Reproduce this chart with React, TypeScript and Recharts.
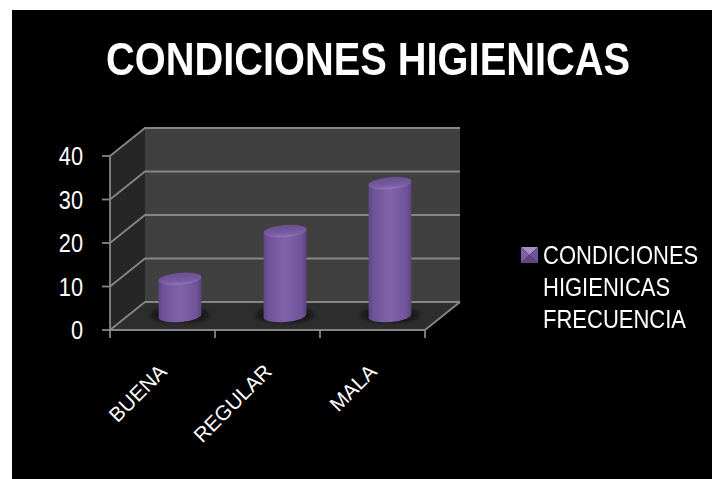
import React from "react";
import { ComposedChart, Bar, XAxis, YAxis, CartesianGrid, ReferenceArea, Legend } from "recharts";

const categories = ["BUENA", "REGULAR", "MALA"];
const frecuencia = [9, 20, 31];
const yTicks = [0, 10, 20, 30, 40];
const titleText = "CONDICIONES HIGIENICAS";
const seriesName = "CONDICIONES HIGIENICAS FRECUENCIA";
const legendLines = ["CONDICIONES", "HIGIENICAS", "FRECUENCIA"];

const rows = categories.map((c, i) => ({ categoria: c, frecuencia: frecuencia[i] }));

const FONT = "'Liberation Sans', Arial, sans-serif";
const DX = 35;
const DY = -28;
const LINE = "#868686";
const SW = 1.8;
const W = 712;
const H = 479;

const Walls = (p: any) => {
  const { x, y, width, height } = p;
  const b = y + height;
  const r = x + width;
  return (
    <g>
      <polygon points={`${x},${y} ${x + DX},${y + DY} ${x + DX},${b + DY} ${x},${b}`} fill="#262626" />
      <polygon points={`${x + DX},${y + DY} ${r + DX},${y + DY} ${r + DX},${b + DY} ${x + DX},${b + DY}`} fill="#404040" />
      <polygon points={`${x},${b} ${x + DX},${b + DY} ${r + DX},${b + DY} ${r},${b}`} fill="#2d2d2d" />
      <line x1={r} y1={b} x2={r + DX} y2={b + DY} stroke={LINE} strokeWidth={SW} />
    </g>
  );
};

const GridLine = (p: any) => {
  const { x1, y1, x2 } = p;
  return (
    <polyline
      points={`${x1},${y1} ${x1 + DX},${y1 + DY} ${x2 + DX},${y1 + DY}`}
      fill="none"
      stroke={LINE}
      strokeWidth={SW}
    />
  );
};

const Cylinder = (p: any) => {
  const { x, y, width, height, index } = p;
  const sx = 17.5;
  const sy = -12;
  const cx = x + width / 2 + sx;
  const top = y + sy;
  const base = y + height + sy - 2;
  const rx = width / 2;
  const ry = 6;
  const tilt = -5;
  const a = (tilt * Math.PI) / 180;
  const ox = rx * Math.cos(a);
  const oy = rx * Math.sin(a);
  const body = `M${cx - ox},${top - oy} L${cx - ox},${base - oy} A${rx},${ry} ${tilt} 0 0 ${cx + ox},${base + oy} L${cx + ox},${top + oy} Z`;
  return (
    <g>
      <defs>
        <linearGradient id={`body${index}`} x1="0" x2="1" y1="0" y2="0">
          <stop offset="0" stopColor="#5f4682" />
          <stop offset="0.12" stopColor="#70549a" />
          <stop offset="0.5" stopColor="#8163a8" />
          <stop offset="0.88" stopColor="#70549a" />
          <stop offset="1" stopColor="#5c437e" />
        </linearGradient>
        <linearGradient id={`cap${index}`} x1="0" x2="0" y1="0" y2="1">
          <stop offset="0" stopColor="#6a4f90" />
          <stop offset="0.7" stopColor="#7a5ca2" />
          <stop offset="1" stopColor="#9478bb" />
        </linearGradient>
        <filter id={`blur${index}`} x="-30%" y="-80%" width="160%" height="260%">
          <feGaussianBlur stdDeviation="2.5" />
        </filter>
      </defs>
      <ellipse cx={cx} cy={base - 1} rx={rx + 7} ry={ry} fill="#0d0d0d" filter={`url(#blur${index})`} />
      <path d={body} fill={`url(#body${index})`} />
      <ellipse cx={cx} cy={top} rx={rx} ry={ry} transform={`rotate(${tilt} ${cx} ${top})`} fill={`url(#cap${index})`} />
    </g>
  );
};

const XTick = (p: any) => {
  const { x, y, payload, index } = p;
  const step = 105;
  const tx = x + 5.5;
  const ty = y + 35;
  return (
    <g>
      <line x1={x - step / 2} y1={y - 8} x2={x - step / 2} y2={y} stroke={LINE} strokeWidth={SW} />
      {index === categories.length - 1 && (
        <line x1={x + step / 2} y1={y - 8} x2={x + step / 2} y2={y} stroke={LINE} strokeWidth={SW} />
      )}
      <text
        x={0}
        y={0}
        textAnchor="end"
        fontSize={20.7}
        fontFamily={FONT}
        fill="#ffffff"
        transform={`translate(${tx} ${ty}) rotate(-45)`}
      >
        {payload.value}
      </text>
    </g>
  );
};

const YTick = (p: any) => {
  const { x, y, payload } = p;
  return (
    <text
      x={0}
      y={0}
      textAnchor="end"
      fontSize={25}
      fontFamily={FONT}
      fill="#ffffff"
      transform={`translate(${x} ${y + 9}) scale(0.87 1)`}
    >
      {payload.value}
    </text>
  );
};

const LegendBox = () => (
  <div style={{ position: "relative", width: 190, height: 0, fontFamily: FONT, fontSize: 25, color: "#fff" }}>
    <svg width={18} height={17} style={{ position: "absolute", left: 0, top: 0 }}>
      <polygon points="0,0 17,0 8.5,8" fill="#a58fc6" />
      <polygon points="0,16 17,16 8.5,8" fill="#5d4580" />
      <polygon points="0,0 0,16 8.5,8" fill="#7d60a4" />
      <polygon points="17,0 17,16 8.5,8" fill="#70549a" />
    </svg>
    {legendLines.map((l, i) => (
      <div
        key={l}
        style={{
          position: "absolute",
          left: 22,
          top: i * 32 - 6,
          lineHeight: "28px",
          whiteSpace: "nowrap",
          transform: "scaleX(0.88)",
          transformOrigin: "0 0",
        }}
      >
        {l}
      </div>
    ))}
  </div>
);

export default function App() {
  return (
    <div style={{ position: "absolute", left: 0, top: 0, width: W, height: H, background: "#fff", overflow: "hidden" }}>
      <div style={{ position: "absolute", left: 12, top: 10, width: W - 12, height: H - 10, background: "#000" }} />
      <div
        style={{
          position: "absolute",
          left: 0,
          top: 33,
          width: 736,
          textAlign: "center",
          fontFamily: FONT,
          fontWeight: 700,
          fontSize: 46,
          lineHeight: "52px",
          color: "#fff",
          whiteSpace: "nowrap",
          transform: "scaleX(0.865)",
          transformOrigin: "368px 0",
        }}
      >
        {titleText}
      </div>
      <div style={{ position: "absolute", left: 0, top: 0 }}>
        <ComposedChart
          width={W}
          height={H}
          data={rows}
          margin={{ top: 156, left: 50, right: 287, bottom: 49 }}
          barSize={43}
        >
          <ReferenceArea y1={0} y2={40} ifOverflow="visible" shape={<Walls />} fillOpacity={1} zIndex={100} />
          <CartesianGrid
            vertical={false}
            zIndex={150}
            horizontal={(p: any) => <GridLine key={p.y1} {...p} />}
          />
          <XAxis
            dataKey="categoria"
            height={100}
            interval={0}
            axisLine={{ stroke: LINE, strokeWidth: SW }}
            tickLine={false}
            tick={<XTick />}
          />
          <YAxis
            width={60}
            domain={[0, 40]}
            ticks={yTicks}
            axisLine={{ stroke: LINE, strokeWidth: SW }}
            tickLine={{ stroke: LINE, strokeWidth: SW }}
            tickSize={8}
            tickMargin={19}
            tick={<YTick />}
          />
          <Legend
            content={<LegendBox />}
            wrapperStyle={{ position: "absolute", left: 521, top: 247, width: 190, height: 0, right: "auto", bottom: "auto" }}
          />
          <Bar dataKey="frecuencia" name={seriesName} fill="#7d60a4" isAnimationActive={false} shape={<Cylinder />} />
        </ComposedChart>
      </div>
    </div>
  );
}
